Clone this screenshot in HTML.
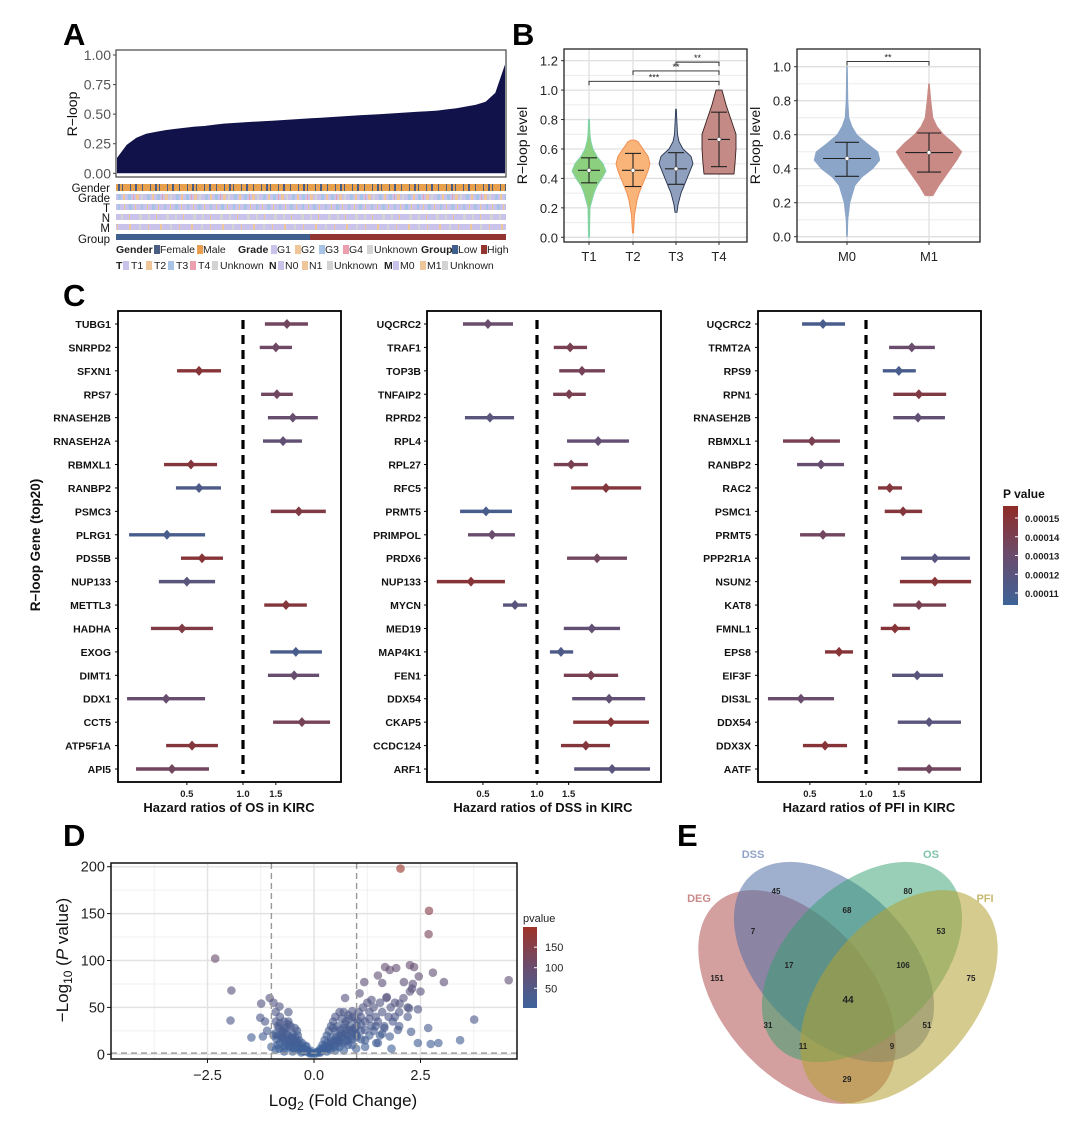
<!DOCTYPE html>
<html><head><meta charset="utf-8">
<style>
html,body{margin:0;padding:0;background:#fff;}
svg{display:block;font-family:"Liberation Sans",Arial,sans-serif;}
.b{font-weight:bold;}
</style></head>
<body>
<svg id="fig" width="1080" height="1128" viewBox="0 0 1080 1128" xmlns="http://www.w3.org/2000/svg">
<defs>
<pattern id="pGender" width="37" height="10" patternUnits="userSpaceOnUse">
<rect width="37" height="10" fill="#e9a04c"/><rect x="2" width="1" height="10" fill="#4b5d80"/><rect x="7" width="2" height="10" fill="#4b5d80"/><rect x="11" width="1" height="10" fill="#4b5d80"/><rect x="19" width="1" height="10" fill="#4b5d80"/><rect x="24" width="2" height="10" fill="#4b5d80"/><rect x="31" width="1" height="10" fill="#4b5d80"/></pattern>
<pattern id="pGrade" width="29" height="10" patternUnits="userSpaceOnUse">
<rect width="29" height="10" fill="#c9c2ea"/><rect x="2" width="3" height="10" fill="#a7c3e6"/><rect x="7" width="2" height="10" fill="#efc59a"/><rect x="12" width="3" height="10" fill="#a7c3e6"/><rect x="17" width="1" height="10" fill="#ec9fae"/><rect x="20" width="3" height="10" fill="#efc59a"/><rect x="25" width="2" height="10" fill="#d3d3d3"/></pattern>
<pattern id="pT" width="23" height="10" patternUnits="userSpaceOnUse">
<rect width="23" height="10" fill="#c9c2ea"/><rect x="3" width="2" height="10" fill="#a7c3e6"/><rect x="9" width="1" height="10" fill="#efc59a"/><rect x="14" width="3" height="10" fill="#a7c3e6"/><rect x="20" width="1" height="10" fill="#efc59a"/></pattern>
<pattern id="pN" width="27" height="10" patternUnits="userSpaceOnUse">
<rect width="27" height="10" fill="#c9c2ea"/><rect x="4" width="3" height="10" fill="#d3d3d3"/><rect x="13" width="2" height="10" fill="#d3d3d3"/><rect x="21" width="1" height="10" fill="#efc59a"/></pattern>
<pattern id="pM" width="31" height="10" patternUnits="userSpaceOnUse">
<rect width="31" height="10" fill="#c9c2ea"/><rect x="5" width="2" height="10" fill="#efc59a"/><rect x="15" width="2" height="10" fill="#d3d3d3"/><rect x="24" width="1" height="10" fill="#efc59a"/></pattern>
<linearGradient id="gP" x1="0" y1="1" x2="0" y2="0"><stop offset="0" stop-color="#3e6398"/><stop offset="0.5" stop-color="#6a4c6c"/><stop offset="1" stop-color="#8f2c26"/></linearGradient>
<linearGradient id="gV" x1="0" y1="1" x2="0" y2="0"><stop offset="0" stop-color="#3d639c"/><stop offset="0.5" stop-color="#6a4d6e"/><stop offset="1" stop-color="#9e3328"/></linearGradient>
</defs>

<text x="63" y="45" font-size="31" class="b">A</text>
<text x="512" y="45" font-size="31" class="b">B</text>
<text x="63" y="306" font-size="31" class="b">C</text>
<text x="63" y="846" font-size="31" class="b">D</text>
<text x="677" y="846" font-size="31" class="b">E</text>

<g font-size="11.5" fill="#111" text-anchor="end">
<text x="110" y="192">Gender</text><text x="110" y="202">Grade</text><text x="110" y="212">T</text><text x="110" y="222">N</text><text x="110" y="232">M</text><text x="110" y="243">Group</text>
<rect x="116" y="184" width="390" height="7" fill="url(#pGender)"/>
<rect x="116" y="194" width="390" height="6" fill="url(#pGrade)"/>
<rect x="116" y="204" width="390" height="6" fill="url(#pT)"/>
<rect x="116" y="214" width="390" height="6" fill="url(#pN)"/>
<rect x="116" y="224" width="390" height="6" fill="url(#pM)"/>
<rect x="116" y="234" width="194" height="6" fill="#3f5f8f"/>
<rect x="310" y="234" width="196" height="6" fill="#923530"/>
</g>
<g font-size="10.5" fill="#222">
<text x="116" y="253" class="b">Gender</text><rect x="154" y="245" width="6" height="9" fill="#4b5d80"/><text x="160" y="253">Female</text><rect x="197" y="245" width="6" height="9" fill="#e9a04c"/><text x="203" y="253">Male</text>
<text x="238" y="253" class="b">Grade</text><rect x="271" y="245" width="6" height="9" fill="#c9c2ea"/><text x="277" y="253">G1</text><rect x="295" y="245" width="6" height="9" fill="#efc59a"/><text x="301" y="253">G2</text><rect x="319" y="245" width="6" height="9" fill="#a7c3e6"/><text x="325" y="253">G3</text><rect x="343" y="245" width="6" height="9" fill="#ec9fae"/><text x="349" y="253">G4</text><rect x="367" y="245" width="6" height="9" fill="#d3d3d3"/><text x="374" y="253">Unknown</text>
<text x="421" y="253" class="b">Group</text><rect x="452" y="245" width="6" height="9" fill="#3f5f8f"/><text x="458" y="253">Low</text><rect x="481" y="245" width="6" height="9" fill="#923530"/><text x="487" y="253">High</text>
<text x="116" y="269" class="b">T</text><rect x="123" y="261" width="6" height="9" fill="#c9c2ea"/><text x="131" y="269">T1</text><rect x="146" y="261" width="6" height="9" fill="#efc59a"/><text x="154" y="269">T2</text><rect x="168" y="261" width="6" height="9" fill="#a7c3e6"/><text x="176" y="269">T3</text><rect x="190" y="261" width="6" height="9" fill="#ec9fae"/><text x="198" y="269">T4</text><rect x="212" y="261" width="6" height="9" fill="#d3d3d3"/><text x="220" y="269">Unknown</text>
<text x="269" y="269" class="b">N</text><rect x="278" y="261" width="6" height="9" fill="#c9c2ea"/><text x="285" y="269">N0</text><rect x="302" y="261" width="6" height="9" fill="#efc59a"/><text x="309" y="269">N1</text><rect x="327" y="261" width="6" height="9" fill="#d3d3d3"/><text x="334" y="269">Unknown</text>
<text x="384" y="269" class="b">M</text><rect x="393" y="261" width="6" height="9" fill="#c9c2ea"/><text x="400" y="269">M0</text><rect x="420" y="261" width="6" height="9" fill="#efc59a"/><text x="427" y="269">M1</text><rect x="442" y="261" width="6" height="9" fill="#d3d3d3"/><text x="450" y="269">Unknown</text>
</g>

<g>
<ellipse cx="797" cy="997" rx="124" ry="76" transform="rotate(50 797 997)" fill="rgb(175,80,80)" fill-opacity="0.55"/>
<ellipse cx="834" cy="962" rx="120" ry="75" transform="rotate(45 834 962)" fill="rgb(80,110,165)" fill-opacity="0.55"/>
<ellipse cx="862" cy="962" rx="120" ry="75" transform="rotate(-45 862 962)" fill="rgb(50,160,110)" fill-opacity="0.5"/>
<ellipse cx="899" cy="997" rx="124" ry="76" transform="rotate(-50 899 997)" fill="rgb(180,160,50)" fill-opacity="0.55"/>
<g font-size="11" class="b" text-anchor="middle">
<text x="753" y="858" fill="#8fa3c7">DSS</text><text x="931" y="858" fill="#7fc4a8">OS</text><text x="699" y="902" fill="#c98a8a">DEG</text><text x="985" y="902" fill="#c9b96f">PFI</text>
</g>
<g font-size="8" class="b" text-anchor="middle" fill="#222">
<text x="776" y="894">45</text><text x="908" y="894">80</text><text x="753" y="934">7</text><text x="847" y="913">68</text><text x="941" y="934">53</text><text x="717" y="981">151</text><text x="789" y="968">17</text><text x="903" y="968">106</text><text x="971" y="981">75</text><text x="848" y="1003" font-size="10">44</text><text x="768" y="1028">31</text><text x="927" y="1028">51</text><text x="803" y="1049">11</text><text x="892" y="1049">9</text><text x="847" y="1082">29</text>
</g>
</g>
</svg>
<script>
var rLoopSorted=[0.13,0.24,0.30,0.335,0.35,0.365,0.375,0.385,0.395,0.40,0.41,0.42,0.425,0.43,0.435,0.44,0.445,0.45,0.455,0.46,0.465,0.47,0.475,0.48,0.485,0.49,0.495,0.50,0.505,0.51,0.515,0.52,0.525,0.53,0.54,0.55,0.565,0.58,0.605,0.68,0.92];
var rLoopTicks=["0.00","0.25","0.50","0.75","1.00"];

var tCats=["T1","T2","T3","T4"];
var tMean=[0.455,0.455,0.465,0.665];
var tLo=[0.37,0.345,0.36,0.48];
var tHi=[0.54,0.57,0.575,0.85];
var tDensY=[[0,0.2,0.25,0.3,0.35,0.4,0.45,0.5,0.55,0.6,0.65,0.7,0.8],[0.03,0.15,0.25,0.3,0.35,0.4,0.45,0.5,0.55,0.6,0.65,0.66],[0.17,0.22,0.3,0.35,0.4,0.45,0.5,0.55,0.6,0.65,0.7,0.8,0.87],[0.43,0.5,0.6,0.7,0.8,0.9,1.0]];
var tDensW=[[0.5,1,3,5,8,13,17,14,8,4,2,1,0.5],[0.5,1.5,4,6,9,12,15,17,15,10,5,2],[1,2,5,8,11,14,17,15,7,3,1.5,0.8,0.3],[15,16,17,17,12,7,3]];
var tFill=["#8ccf7e","#f9b47a","#8ea0bd","#c48a86"];
var tStroke=["#7fd3b0","#f08a4a","#2a3550","#3a2020"];
var tSig=[["T1","T4","***",1.06],["T2","T4","**",1.13],["T3","T4","**",1.19]];
var tTicks=["0.0","0.2","0.4","0.6","0.8","1.0","1.2"];

var mCats=["M0","M1"];
var mMean=[0.46,0.495];
var mLo=[0.355,0.38];
var mHi=[0.555,0.61];
var mDensY=[[0,0.1,0.2,0.3,0.35,0.4,0.45,0.5,0.55,0.6,0.65,0.7,0.8,1.0],[0.24,0.3,0.35,0.4,0.45,0.5,0.55,0.6,0.65,0.7,0.8,0.9]];
var mDensW=[[0.5,1,3,8,15,26,33,31,20,10,5,2,1,0.5],[4,10,16,22,28,33,25,15,8,4,2,0.5]];
var mFill=["#8aa5c7","#c98a86"];
var mTicks=["0.0","0.2","0.4","0.6","0.8","1.0"];

var osGenes=["TUBG1","SNRPD2","SFXN1","RPS7","RNASEH2B","RNASEH2A","RBMXL1","RANBP2","PSMC3","PLRG1","PDS5B","NUP133","METTL3","HADHA","EXOG","DIMT1","DDX1","CCT5","ATP5F1A","API5"];
var osHR=[1.72,1.50,0.581,1.52,1.85,1.64,0.526,0.581,1.99,0.391,0.603,0.50,1.70,0.471,1.92,1.88,0.387,2.07,0.533,0.416];
var osLo=[1.31,1.23,0.443,1.25,1.36,1.28,0.377,0.437,1.41,0.245,0.465,0.354,1.30,0.321,1.40,1.36,0.239,1.45,0.387,0.267];
var osHi=[2.23,1.83,0.762,1.85,2.52,2.07,0.726,0.762,2.78,0.626,0.781,0.708,2.20,0.690,2.65,2.56,0.626,2.93,0.734,0.657];
var osP=[0.000135,0.000133,0.00015,0.000135,0.000128,0.000125,0.000148,0.000113,0.000145,0.00011,0.00015,0.00012,0.000148,0.000145,0.00011,0.000128,0.000128,0.000138,0.000148,0.000135];

var dssGenes=["UQCRC2","TRAF1","TOP3B","TNFAIP2","RPRD2","RPL4","RPL27","RFC5","PRMT5","PRIMPOL","PRDX6","NUP133","MYCN","MED19","MAP4K1","FEN1","DDX54","CKAP5","CCDC124","ARF1"];
var dssHR=[0.533,1.53,1.78,1.51,0.547,2.19,1.55,2.42,0.520,0.562,2.16,0.429,0.754,2.02,1.36,2.00,2.52,2.58,1.87,2.62];
var dssLo=[0.387,1.24,1.33,1.23,0.397,1.47,1.24,1.55,0.373,0.413,1.47,0.277,0.647,1.41,1.18,1.41,1.57,1.59,1.36,1.61];
var dssHi=[0.735,1.90,2.39,1.87,0.745,3.25,1.92,3.80,0.726,0.754,3.17,0.663,0.880,2.90,1.59,2.83,4.0,4.2,2.55,4.26];
var dssP=[0.00013,0.00014,0.000138,0.00014,0.00012,0.000126,0.00014,0.000148,0.00011,0.00013,0.000135,0.00015,0.00012,0.000125,0.000113,0.00014,0.000125,0.00015,0.000148,0.00012];

var pfiGenes=["UQCRC2","TRMT2A","RPS9","RPN1","RNASEH2B","RBMXL1","RANBP2","RAC2","PSMC1","PRMT5","PPP2R1A","NSUN2","KAT8","FMNL1","EPS8","EIF3F","DIS3L","DDX54","DDX3X","AATF"];
var pfiHR=[0.588,1.76,1.50,1.92,1.90,0.513,0.574,1.34,1.58,0.588,2.34,2.34,1.92,1.43,0.717,1.88,0.448,2.18,0.603,2.18];
var pfiLo=[0.454,1.33,1.23,1.40,1.40,0.359,0.427,1.16,1.26,0.443,1.54,1.52,1.40,1.20,0.603,1.38,0.298,1.48,0.459,1.48];
var pfiHi=[0.772,2.34,1.85,2.69,2.65,0.725,0.762,1.56,2.00,0.772,3.61,3.66,2.69,1.72,0.852,2.59,0.674,3.23,0.791,3.23];
var pfiP=[0.00011,0.00013,0.00011,0.000145,0.000125,0.00014,0.000128,0.000148,0.000148,0.000135,0.000118,0.00015,0.00014,0.00015,0.00015,0.00012,0.00013,0.00012,0.00015,0.000135];
var hrTicks=[0.5,1.0,1.5];
var pLegendTicks=[0.00015,0.00014,0.00013,0.00012,0.00011];

var volX=[2.03,2.70,2.69,-2.32,-1.94,-1.96,4.57,3.76,3.43,2.92,2.74,2.44,2.68,3.05,2.79,2.46,2.25,2.35,1.67,1.93,1.78,1.50,1.60,2.11,2.32,1.18,1.07,0.73,2.50,2.25,2.23,2.44,2.01,1.71,1.35,1.97,2.28,1.78,1.82,1.46,1.11,0.99,-1.47,-1.24,-1.26,-1.04,-0.81,-1.20,-0.82,
-0.9,-0.85,-0.8,-0.75,-0.7,-0.7,-0.65,-0.6,-0.6,-0.55,-0.5,-0.5,-0.45,-0.4,-0.4,-0.35,-0.3,-0.25,-0.2,-0.15,-0.1,-0.05,-0.95,-1.0,-0.9,-0.8,-0.7,-0.5,-0.3,-1.1,-1.15,-0.95,-0.6,-0.75,-0.65,-0.55,-0.45,-0.35,-0.25,-0.6,-0.85,-0.5,-0.4,-0.3,-0.2,-0.1,0,
0.05,0.1,0.15,0.2,0.25,0.3,0.3,0.35,0.4,0.4,0.45,0.5,0.5,0.55,0.6,0.6,0.65,0.7,0.7,0.75,0.8,0.8,0.85,0.9,0.95,1.0,1.05,1.1,1.15,1.2,1.25,1.3,1.35,1.4,1.45,1.5,1.55,1.6,1.65,1.7,1.75,1.8,1.85,1.9,2.0,2.1,2.2,2.3,2.0,1.3,1.6,0.6,0.4,0.9,1.2,0.3,0.7,0.5,1.4,1.9,2.2,1.1,0.2,0.35,0.45,0.55,0.65,0.75,0.85,0.95,0.15,0.25,1.0,0.8,1.2,1.5,
-0.92,-0.88,-0.82,-0.78,-0.72,-0.68,-0.62,-0.58,-0.52,-0.48,-0.42,-0.38,-0.32,-0.28,-0.22,-0.18,-0.12,-0.08,-0.9,-0.8,-0.7,-0.6,-0.5,-0.4,-0.85,-0.75,-0.65,-0.55,-0.45,-0.7,
0.08,0.12,0.18,0.22,0.28,0.32,0.38,0.42,0.48,0.52,0.58,0.62,0.68,0.72,0.78,0.82,0.88,0.92,0.98,1.02,0.3,0.4,0.5,0.6,0.7,0.8,0.9,1.0,0.45,0.55,0.65,0.75,0.85,0.95,1.1,1.2,1.3,1.45,1.55,1.65];
var volY=[198,153,128,102,68,36,79,37,15,12,11,12,28,77,87,83,95,93,93,92,90,84,76,77,75,77,65,60,67,67,49,48,54,61,58,26,24,19,6,12,16,6,18,54,39,60,51,19,6,
45,30,40,25,35,15,28,20,10,30,22,12,18,25,8,15,10,6,8,4,2,1,20,8,5,12,3,3,2,25,35,55,45,18,12,8,6,5,3,32,20,16,12,6,3,1,1,
1,3,6,10,15,12,20,25,18,30,35,25,40,30,45,20,38,28,45,35,42,20,30,46,38,30,45,40,50,35,55,45,30,50,40,35,55,45,30,60,40,50,35,55,45,60,50,70,30,20,22,8,5,10,15,3,12,8,25,40,40,25,4,8,10,14,18,22,26,28,2,5,20,15,8,12,
22,16,28,20,24,9,17,14,18,6,13,20,7,12,5,9,3,4,35,33,27,35,16,14,10,18,22,8,28,6,
3,2,5,7,9,6,9,12,15,18,14,26,20,32,26,38,24,40,22,36,7,13,4,12,4,10,16,18,28,16,22,14,18,26,32,26,38,30,20,28];
var volXTicks=["-2.5","0.0","2.5"];
var volYTicks=["0","50","100","150","200"];
var volLegendTicks=["50","100","150"];

var NS="http://www.w3.org/2000/svg";
var svg=document.getElementById('fig');
function mk(tag,attrs,parent){var e=document.createElementNS(NS,tag);for(var k in attrs)e.setAttribute(k,attrs[k]);(parent||svg).appendChild(e);return e;}
function txt(s,attrs,parent){var e=mk('text',attrs,parent);e.textContent=s;return e;}
function lerpC(c1,c2,t){t=Math.max(0,Math.min(1,t));var r=[0,1,2].map(function(i){return Math.round(c1[i]+(c2[i]-c1[i])*t);});return 'rgb('+r.join(',')+')';}
function ramp3(t,a,m,b){return t<0.5?lerpC(a,m,t*2):lerpC(m,b,(t-0.5)*2);}

(function(){
 var g=mk('g',{});
 
 
 var x0=116,x1=506,yTop=50,yBot=177;
 function ys(v){return 173.3-v*118.3;}
 mk('rect',{x:x0,y:yTop,width:x1-x0,height:yBot-yTop,fill:'#fff'},g);
 var n=rLoopSorted.length,d='M'+(x0+1)+','+ys(0);
 for(var i=0;i<n;i++){d+=' L'+(x0+1+(x1-x0-2)*i/(n-1)).toFixed(1)+','+ys(rLoopSorted[i]).toFixed(1);}
 d+=' L'+(x1-1)+','+ys(0)+' Z';
 var a=mk('path',{d:d,fill:'#12124a'},g);
 
 
 mk('rect',{x:x0,y:yTop,width:x1-x0,height:yBot-yTop,fill:'none',stroke:'#444','stroke-width':1.2},g);
 for(var j=0;j<rLoopTicks.length;j++){var v=parseFloat(rLoopTicks[j]);var y=ys(v);
  mk('line',{x1:x0-3,x2:x0,y1:y,y2:y,stroke:'#444'},g);
  var t=txt(rLoopTicks[j],{x:x0-5,y:y+5,'font-size':14,fill:'#555','text-anchor':'end'},g);
  
  }
 var yt=txt('R\u2212loop',{x:0,y:0,'font-size':14,fill:'#111','text-anchor':'middle',transform:'translate(77,114) rotate(-90)'},g);
 
 
})();

function violinPanel(name,box,ymax,pxPerUnit,y0px,cats,catX,densY,densW,fills,strokes,mean,lo,hi,ticks,minorStep,titleOff){
 var g=mk('g',{});
 
 
 function ys(v){return y0px-v*pxPerUnit;}
 mk('rect',{x:box[0],y:box[1],width:box[2]-box[0],height:box[3]-box[1],fill:'#fff'},g);
 for(var v=0;v<=ymax+1e-9;v+=minorStep){mk('line',{x1:box[0],x2:box[2],y1:ys(v),y2:ys(v),stroke:'#ececec','stroke-width':1},g);}
 for(var j=0;j<ticks.length;j++){var yv=ys(parseFloat(ticks[j]));mk('line',{x1:box[0],x2:box[2],y1:yv,y2:yv,stroke:'#e0e0e0','stroke-width':1.3},g);}
 for(var c=0;c<cats.length;c++){mk('line',{x1:catX[c],x2:catX[c],y1:box[1],y2:box[3],stroke:'#e0e0e0','stroke-width':1.3},g);}
 for(var c=0;c<cats.length;c++){
  var cx=catX[c],Y=densY[c],W=densW[c],d='M'+(cx+W[0])+','+ys(Y[0]);
  for(var k=1;k<Y.length;k++)d+=' L'+(cx+W[k]).toFixed(1)+','+ys(Y[k]).toFixed(1);
  for(var k=Y.length-1;k>=0;k--)d+=' L'+(cx-W[k]).toFixed(1)+','+ys(Y[k]).toFixed(1);
  d+=' Z';
  var p=mk('path',{d:d,fill:fills[c],stroke:strokes?strokes[c]:fills[c],'stroke-width':strokes?0.9:0.5,'stroke-linejoin':'round'},g);
  
  
  var hw=cats.length>2?11:24,cw=cats.length>2?8:12;
  mk('line',{x1:cx,x2:cx,y1:ys(lo[c]),y2:ys(hi[c]),stroke:'#222','stroke-width':1.1},g);
  mk('line',{x1:cx-cw,x2:cx+cw,y1:ys(lo[c]),y2:ys(lo[c]),stroke:'#222','stroke-width':1.1},g);
  mk('line',{x1:cx-cw,x2:cx+cw,y1:ys(hi[c]),y2:ys(hi[c]),stroke:'#222','stroke-width':1.1},g);
  mk('line',{x1:cx-hw,x2:cx+hw,y1:ys(mean[c]),y2:ys(mean[c]),stroke:'#222','stroke-width':1.1},g);
  mk('circle',{cx:cx,cy:ys(mean[c]),r:2,fill:'#fff',stroke:'#555','stroke-width':0.6},g);
  mk('line',{x1:cx,x2:cx,y1:box[3],y2:box[3]+3,stroke:'#333'},g);
  var lt=txt(cats[c],{x:cx,y:box[3]+19,'font-size':13,fill:'#222','text-anchor':'middle'},g);
  
  
 }
 for(var j=0;j<ticks.length;j++){var yv=ys(parseFloat(ticks[j]));
  mk('line',{x1:box[0]-3,x2:box[0],y1:yv,y2:yv,stroke:'#333'},g);
  var t=txt(ticks[j],{x:box[0]-6,y:yv+5,'font-size':13,fill:'#222','text-anchor':'end'},g);
  
  }
 mk('rect',{x:box[0],y:box[1],width:box[2]-box[0],height:box[3]-box[1],fill:'none',stroke:'#222','stroke-width':1.3},g);
 var yt=txt('R\u2212loop level',{x:0,y:0,'font-size':14,fill:'#111','text-anchor':'middle',transform:'translate('+(box[0]-titleOff)+','+((box[1]+box[3])/2)+') rotate(-90)'},g);
 
 
 return {g:g,ys:ys};
}
var vT=violinPanel('violin-chart-t-stage',[564,49,747,242],1.25,147.2,237.3,tCats,[589,633,676,719],tDensY,tDensW,tFill,tStroke,tMean,tLo,tHi,tTicks,0.1,37);
(function(){
 var catX={T1:589,T2:633,T3:676,T4:719};
 for(var i=0;i<tSig.length;i++){var s=tSig[i],y=vT.ys(s[3]);
  var br=mk('path',{d:'M'+catX[s[0]]+','+(y+4)+' V'+y+' H'+catX[s[1]]+' V'+(y+4),fill:'none',stroke:'#222','stroke-width':0.9},vT.g);
  
  
  txt(s[2],{x:(catX[s[0]]+catX[s[1]])/2,y:y-1,'font-size':9,fill:'#222','text-anchor':'middle'},vT.g);}
})();
var vM=violinPanel('violin-chart-m-stage',[797,49,980,242],1.08,170,236.7,mCats,[847,929],mDensY,mDensW,mFill,null,mMean,mLo,mHi,mTicks,0.1,37);
(function(){var y=vM.ys(1.03);
 var br=mk('path',{d:'M847,'+(y+4)+' V'+y+' H929 V'+(y+4),fill:'none',stroke:'#222','stroke-width':0.9},vM.g);
 
 
 txt('**',{x:888,y:y-1,'font-size':9,fill:'#222','text-anchor':'middle'},vM.g);})();

function pColor(p){var t=(p-0.0001036)/(0.0001564-0.0001036);return ramp3(t,[62,99,152],[106,76,108],[143,44,38]);}
function forest(name,box,x1,k,labelX,genes,hr,lo,hi,pv,title,titleX){
 var g=mk('g',{});
 
 
 function xs(v){return x1+k*Math.log(v);}
 var y0=324,dy=(769-324)/19;
 mk('line',{x1:xs(1),x2:xs(1),y1:320,y2:774,stroke:'#000','stroke-width':3.2,'stroke-dasharray':'9,6'},g);
 for(var i=0;i<genes.length;i++){var y=y0+dy*i,col=pColor(pv[i]);
  var lt=txt(genes[i],{x:labelX,y:y+4,'font-size':10.5,'font-weight':'bold',fill:'#111','text-anchor':'end'},g);
  
  
  mk('line',{x1:box[0]-3,x2:box[0],y1:y,y2:y,stroke:'#000','stroke-width':1},g);
  var ln=mk('line',{x1:xs(lo[i]),x2:xs(hi[i]),y1:y,y2:y,stroke:col,'stroke-width':3.4},g);
  
  
  var cx=xs(hr[i]);
  var dm=mk('path',{d:'M'+cx+','+(y-5)+' L'+(cx+4.5)+','+y+' L'+cx+','+(y+5)+' L'+(cx-4.5)+','+y+' Z',fill:col},g);
  
  
 }
 for(var j=0;j<hrTicks.length;j++){var tx=xs(hrTicks[j]);
  mk('line',{x1:tx,x2:tx,y1:box[3],y2:box[3]+3,stroke:'#000'},g);
  var t=txt(hrTicks[j].toFixed(1),{x:tx,y:box[3]+15,'font-size':9.5,'font-weight':'bold',fill:'#222','text-anchor':'middle'},g);
  
  }
 mk('rect',{x:box[0],y:box[1],width:box[2]-box[0],height:box[3]-box[1],fill:'none',stroke:'#000','stroke-width':1.8},g);
 var tt=txt(title,{x:titleX,y:box[3]+30,'font-size':13,'font-weight':'bold',fill:'#111','text-anchor':'middle'},g);
 
 
}
forest('forest-os',[118,311,341,782],243,81,111,osGenes,osHR,osLo,osHi,osP,'Hazard ratios of OS in KIRC',229);
forest('forest-dss',[427,311,661,782],537,78,421,dssGenes,dssHR,dssLo,dssHi,dssP,'Hazard ratios of DSS in KIRC',543);
forest('forest-pfi',[758,311,981,782],866,81,751,pfiGenes,pfiHR,pfiLo,pfiHi,pfiP,'Hazard ratios of PFI in KIRC',869);
(function(){
 var yt=txt('R\u2212loop Gene (top20)',{x:0,y:0,'font-size':13.5,'font-weight':'bold',fill:'#111','text-anchor':'middle',transform:'translate(40,545) rotate(-90)'});
 
 
 var g=mk('g',{});
 
 
 txt('P value',{x:1003,y:498,'font-size':12,'font-weight':'bold',fill:'#111'},g);
 mk('rect',{x:1003,y:506,width:15,height:99,fill:'url(#gP)'},g);
 for(var i=0;i<pLegendTicks.length;i++){var y=605-(pLegendTicks[i]-0.0001036)/(0.0001564-0.0001036)*99;
  mk('line',{x1:1015,x2:1018,y1:y,y2:y,stroke:'#fff'},g);
  txt(pLegendTicks[i].toFixed(5),{x:1025,y:y+4,'font-size':9.5,'font-weight':'bold',fill:'#222'},g);}
})();

(function(){
 var g=mk('g',{});
 
 
 var bx=[111,863,517,1059];
 function xs(v){return 314+v*42.6;}
 function ys(v){return 1054.3-v*0.938;}
 var minX=[-3.75,-1.25,1.25,3.75],minY=[25,75,125,175];
 for(var i=0;i<minX.length;i++)mk('line',{x1:xs(minX[i]),x2:xs(minX[i]),y1:bx[1],y2:bx[3],stroke:'#f0f0f0','stroke-width':1},g);
 for(var i=0;i<minY.length;i++)mk('line',{x1:bx[0],x2:bx[2],y1:ys(minY[i]),y2:ys(minY[i]),stroke:'#f0f0f0','stroke-width':1},g);
 for(var i=0;i<volXTicks.length;i++){var x=xs(parseFloat(volXTicks[i]));mk('line',{x1:x,x2:x,y1:bx[1],y2:bx[3],stroke:'#e3e3e3','stroke-width':1.5},g);}
 for(var i=0;i<volYTicks.length;i++){var y=ys(parseFloat(volYTicks[i]));mk('line',{x1:bx[0],x2:bx[2],y1:y,y2:y,stroke:'#e3e3e3','stroke-width':1.5},g);}
 var pts=mk('g',{},g);
 
 
 for(var i=0;i<volX.length;i++){
  var c=mk('circle',{cx:xs(volX[i]).toFixed(1),cy:ys(volY[i]).toFixed(1),r:4.3,fill:ramp3(volY[i]/200,[61,99,156],[106,77,110],[158,51,40]),'fill-opacity':0.62},pts);
  
  
 }
 mk('line',{x1:xs(-1),x2:xs(-1),y1:bx[1],y2:bx[3],stroke:'#999','stroke-width':1.4,'stroke-dasharray':'6,4'},g);
 mk('line',{x1:xs(1),x2:xs(1),y1:bx[1],y2:bx[3],stroke:'#999','stroke-width':1.4,'stroke-dasharray':'6,4'},g);
 mk('line',{x1:bx[0],x2:bx[2],y1:ys(1.3),y2:ys(1.3),stroke:'#999','stroke-width':1.4,'stroke-dasharray':'6,4'},g);
 mk('rect',{x:bx[0],y:bx[1],width:bx[2]-bx[0],height:bx[3]-bx[1],fill:'none',stroke:'#111','stroke-width':1.5},g);
 for(var i=0;i<volXTicks.length;i++){var x=xs(parseFloat(volXTicks[i]));
  mk('line',{x1:x,x2:x,y1:bx[3],y2:bx[3]+4,stroke:'#111'},g);
  var t=txt(volXTicks[i].replace('-','\u2212'),{x:x,y:bx[3]+21,'font-size':14.5,fill:'#222','text-anchor':'middle'},g);
  
  }
 for(var i=0;i<volYTicks.length;i++){var y=ys(parseFloat(volYTicks[i]));
  mk('line',{x1:bx[0]-4,x2:bx[0],y1:y,y2:y,stroke:'#111'},g);
  var t=txt(volYTicks[i],{x:bx[0]-6,y:y+5,'font-size':14.5,fill:'#222','text-anchor':'end'},g);
  
  }
 var xt=mk('text',{x:343,y:1106,'font-size':17,fill:'#111','text-anchor':'middle'},g);
 xt.innerHTML='Log<tspan font-size="12" dy="4">2</tspan><tspan dy="-4"> (Fold Change)</tspan>';
 
 
 var yt=mk('text',{x:0,y:0,'font-size':17,fill:'#111','text-anchor':'middle',transform:'translate(68,960) rotate(-90)'},g);
 yt.innerHTML='\u2212Log<tspan font-size="12" dy="4">10</tspan><tspan dy="-4"> (</tspan><tspan font-style="italic">P</tspan> value)';
 
 
 var lg=mk('g',{},g);
 
 
 txt('pvalue',{x:523,y:922,'font-size':11,fill:'#222'},lg);
 mk('rect',{x:523,y:927,width:14,height:81,fill:'url(#gV)'},lg);
 for(var i=0;i<volLegendTicks.length;i++){var v=parseFloat(volLegendTicks[i]);var y=1008-(v-2)/197*81;
  mk('line',{x1:534,x2:537,y1:y,y2:y,stroke:'#fff'},lg);
  txt(volLegendTicks[i],{x:545,y:y+4,'font-size':11,fill:'#222'},lg);}
})();
</script>
</body></html>
